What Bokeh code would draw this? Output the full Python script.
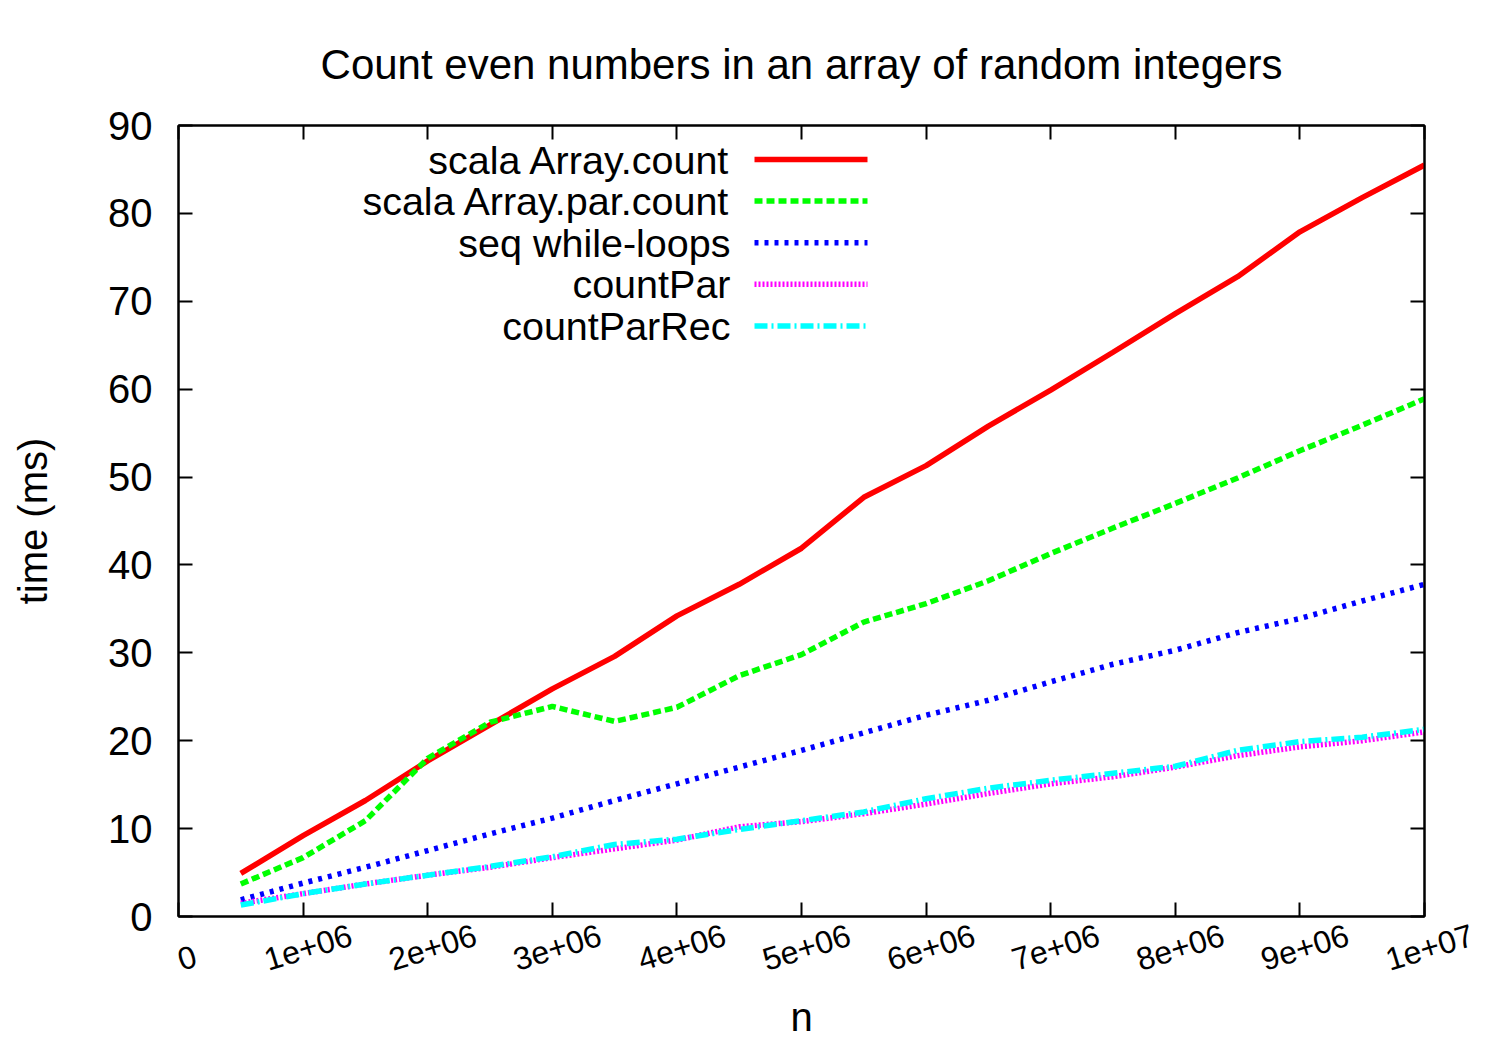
import math
from bokeh.plotting import figure
from bokeh.models import Range1d, LinearAxis, FixedTicker
from bokeh.core.properties import value
from bokeh.embed import file_html
from bokeh.resources import INLINE

# ---------------- data ----------------
title_text = "Count even numbers in an array of random integers"
x_label = "n"
y_label = "time (ms)"

n_values = [500000, 1000000, 1500000, 2000000, 2500000, 3000000, 3500000,
            4000000, 4500000, 5000000, 5500000, 6000000, 6500000, 7000000,
            7500000, 8000000, 8500000, 9000000, 9500000, 10000000]

array_count = [4.9, 9.2, 13.2, 17.7, 21.8, 25.9, 29.6, 34.2, 37.8, 41.9,
               47.7, 51.3, 55.8, 59.9, 64.2, 68.6, 72.8, 77.9, 81.8, 85.5]
array_par_count = [3.7, 6.7, 10.9, 18.0, 22.1, 23.9, 22.2, 23.8, 27.4, 29.8,
                   33.5, 35.6, 38.2, 41.3, 44.2, 47.0, 49.9, 53.0, 55.9, 58.9]
seq_while = [1.9, 3.8, 5.6, 7.5, 9.4, 11.2, 13.2, 15.1, 17.0, 18.9,
             20.9, 22.9, 24.6, 26.7, 28.7, 30.3, 32.3, 33.9, 35.9, 37.8]
count_par = [1.5, 2.6, 3.7, 4.7, 5.6, 6.7, 7.7, 8.7, 10.2, 10.8,
             11.7, 12.8, 14.0, 15.1, 15.9, 17.0, 18.3, 19.3, 20.0, 21.0]
count_par_rec = [1.3, 2.6, 3.7, 4.7, 5.7, 6.8, 8.2, 8.8, 9.9, 10.9,
                 11.9, 13.4, 14.6, 15.5, 16.3, 17.1, 18.9, 19.9, 20.4, 21.3]

series_names = ["scala Array.count", "scala Array.par.count", "seq while-loops",
                "countPar", "countParRec"]
series_values = [array_count, array_par_count, seq_while, count_par, count_par_rec]

x_ticks = [0, 1000000, 2000000, 3000000, 4000000, 5000000, 6000000,
           7000000, 8000000, 9000000, 10000000]
x_tick_labels = ["0", "1e+06", "2e+06", "3e+06", "4e+06", "5e+06", "6e+06",
                 "7e+06", "8e+06", "9e+06", "1e+07"]
y_ticks = [0, 10, 20, 30, 40, 50, 60, 70, 80, 90]

# ---------------- styles / layout ----------------
FONT = "Liberation Sans"
FS = "40px"
XTICK_FS = 32
XTICK_ANGLE = math.radians(17)
colors = ["#ff0000", "#00ff00", "#0000ff", "#ff00ff", "#00ffff"]
widths = [5.5, 5.5, 5.5, 5.5, 5.5]
dashes = ["solid", "8 4", "4 6", "2 2", "13 4 2 4"]

FW, FH = 1246, 791
X0, X1 = 0, 10000000
PX = (X1 - X0) / FW          # data units per screen pixel along x

p = figure(frame_width=FW, frame_height=FH,
           x_range=Range1d(X0, X1), y_range=Range1d(0, 90),
           output_backend="svg", toolbar_location=None,
           min_border_left=178, min_border_right=70,
           min_border_top=125, min_border_bottom=126,
           background_fill_color="white", border_fill_color="white")
p.grid.visible = False
p.outline_line_color = "black"
p.outline_line_width = 2

p.title.text = title_text
p.title.align = "center"
p.title.text_font = FONT
p.title.text_font_size = "42px"
p.title.text_font_style = "normal"
p.title.text_color = "black"
p.title.standoff = 76


def style_axis(ax, ticks):
    ax.ticker = FixedTicker(ticks=ticks)
    ax.major_tick_in = 14
    ax.major_tick_out = 0
    ax.minor_tick_in = 0
    ax.minor_tick_out = 0
    ax.axis_line_width = 2
    ax.axis_line_color = "black"
    ax.major_tick_line_width = 2
    ax.major_tick_line_color = "black"
    ax.major_label_text_font = FONT
    ax.major_label_text_font_size = FS
    ax.major_label_text_color = "black"
    ax.axis_label_text_font = FONT
    ax.axis_label_text_font_size = FS
    ax.axis_label_text_font_style = "normal"
    ax.axis_label_text_color = "black"


def ticks_only(ax, ticks):
    style_axis(ax, ticks)
    ax.major_label_overrides = {t: "" for t in ticks}
    ax.major_label_text_font_size = "0px"
    ax.major_label_standoff = 0


# bottom axis: frame line + inward ticks
xa = p.xaxis[0]
ticks_only(xa, x_ticks)

# left axis with labels
ya = p.yaxis[0]
style_axis(ya, y_ticks)
ya.major_label_standoff = 26
ya.axis_label = y_label
ya.axis_label_standoff = 50

# mirrored ticks (top / right)
top = LinearAxis()
ticks_only(top, x_ticks)
p.add_layout(top, "above")
right = LinearAxis()
ticks_only(right, y_ticks)
p.add_layout(right, "right")

# rotated x tick labels, centred under their ticks (gnuplot style).
# A negative orientation (angle - 2*pi) gives the same rotation but anchors each
# label at its left end; the label axis range is shifted left by half a label
# width so that the text ends up centred under the tick.
SHIFT_PX = 38.0
lab_start = X0 + SHIFT_PX * PX
p.extra_x_ranges = {"xlab": Range1d(lab_start, X1 + SHIFT_PX * PX),
                    "px": Range1d(0, FW)}
lab_pos = [max(t, lab_start + 1) for t in x_ticks]
xl = LinearAxis(x_range_name="xlab")
style_axis(xl, lab_pos)
xl.major_label_overrides = dict(zip(lab_pos, x_tick_labels))
xl.major_label_orientation = XTICK_ANGLE - 2 * math.pi
xl.major_label_text_font_size = f"{XTICK_FS}px"
xl.major_label_standoff = 44
xl.major_tick_in = 0
xl.major_tick_line_color = None
xl.axis_line_color = None
xl.axis_label = x_label
xl.axis_label_standoff = 16
p.add_layout(xl, "below")

for vals, c, w, d in zip(series_values, colors, widths, dashes):
    p.line(n_values, vals, line_color=c, line_width=w, line_dash=d)

# ---------------- key (gnuplot style: text right, sample left) ----------------
p.extra_y_ranges = {"py": Range1d(FH, 0)}
KEY_TEXT_RIGHT = 552
KEY_S0, KEY_S1 = 576, 689
KEY_TOP, KEY_PITCH = 34, 41.6
for i, (name, c, w, d) in enumerate(zip(series_names, colors, widths, dashes)):
    yy = KEY_TOP + i * KEY_PITCH
    p.line([KEY_S0, KEY_S1], [yy, yy], line_color=c, line_width=w, line_dash=d,
           x_range_name="px", y_range_name="py")
    p.text(x=[KEY_TEXT_RIGHT], y=[yy], text=[name], text_align="right",
           text_baseline="middle", text_font=value(FONT), text_font_size="39.5px",
           text_color="black", x_range_name="px", y_range_name="py")

open("out.html", "w").write(file_html(p, INLINE))
